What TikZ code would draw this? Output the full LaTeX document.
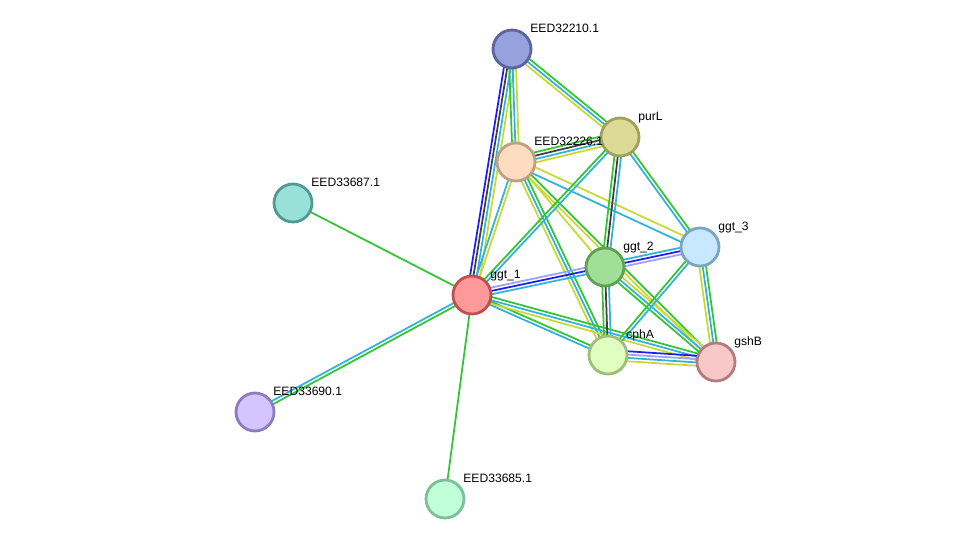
\documentclass[tikz,border=0pt]{standalone}
\usepackage{fontspec}
\setmainfont{Liberation Sans}
\usetikzlibrary{calc, backgrounds}

%% evidence channel colours
\definecolor{evGreen}{RGB}{50,196,50}
\definecolor{evCyan}{RGB}{48,178,220}
\definecolor{evYellow}{RGB}{200,218,50}
\definecolor{evBlue}{RGB}{30,30,238}
\definecolor{evBlack}{RGB}{64,64,64}
\definecolor{evLav}{RGB}{160,160,250}

%% protein fills / rims
\definecolor{f32210}{RGB}{151,162,221} \definecolor{r32210}{RGB}{90,100,160}
\definecolor{fpurL}{RGB}{220,218,150}  \definecolor{rpurL}{RGB}{160,160,90}
\definecolor{f32226}{RGB}{253,220,192} \definecolor{r32226}{RGB}{190,160,130}
\definecolor{f33687}{RGB}{152,224,216} \definecolor{r33687}{RGB}{80,155,145}
\definecolor{fggtA}{RGB}{255,153,153}  \definecolor{rggtA}{RGB}{190,80,80}
\definecolor{fggtB}{RGB}{160,224,150}  \definecolor{rggtB}{RGB}{95,160,85}
\definecolor{fggtC}{RGB}{200,232,255}  \definecolor{rggtC}{RGB}{125,165,190}
\definecolor{fcphA}{RGB}{224,255,192}  \definecolor{rcphA}{RGB}{160,190,120}
\definecolor{fgshB}{RGB}{248,200,200}  \definecolor{rgshB}{RGB}{180,125,125}
\definecolor{f33690}{RGB}{212,196,255} \definecolor{r33690}{RGB}{140,125,190}
\definecolor{f33685}{RGB}{192,255,216} \definecolor{r33685}{RGB}{125,190,155}

\tikzset{
    protein/.style={circle, line width=1.6pt, minimum size=0.76cm, inner sep=0pt},
    plabel/.style={anchor=base west, inner sep=0pt, font=\fontsize{6.9}{8}\selectfont},
    evline/.style={line width=1pt}
}
%% #1 name, #2 position, #3 colour key, #4 label
\newcommand{\prot}[4]{%
    \node[protein, fill=f#3, draw=r#3] (#1) at #2 {};
    \node[plabel] (#1-lbl) at ($(#1)+(18,-17)$) {#4};
}
%% #1 from, #2 to, #3 list colour/offset
\newcommand{\evidence}[3]{%
    \foreach \c/\o in {#3}{
        \draw[evline, draw=\c]
            ($(#1)!\o*1.9pt!90:(#2)$) -- ($(#2)!\o*1.9pt!-90:(#1)$);
    }
}

\begin{document}
\begin{tikzpicture}[x=0.02cm, y=-0.02cm]
\useasboundingbox (0,0) rectangle (975,545);

%% ── PROTEINS ────────────────────────────────────────────────────
\prot{e32210}{(512, 49)}{32210}{EED32210.1}
\prot{purL}  {(620,137)}{purL} {purL}
\prot{e32226}{(516,162)}{32226}{EED32226.1}
\prot{e33687}{(293,203)}{33687}{EED33687.1}
\prot{ggtA}  {(472,295)}{ggtA} {ggt\_1}
\prot{ggtB}  {(605,267)}{ggtB} {ggt\_2}
\prot{ggtC}  {(700,247)}{ggtC} {ggt\_3}
\prot{cphA}  {(608,355)}{cphA} {cphA}
\prot{gshB}  {(716,362)}{gshB} {gshB}
\prot{e33690}{(255,412)}{33690}{EED33690.1}
\prot{e33685}{(445,499)}{33685}{EED33685.1}

%% ── EDGES (under the circles) ───────────────────────────────────
\begin{pgfonlayer}{background}
\evidence{e32210}{ggtA}{evBlue/-1.5, evBlack/-0.5, evCyan/0.5, evYellow/1.5}
\evidence{e32210}{e32226}{evGreen/-1, evCyan/0, evYellow/1}
\evidence{e32210}{purL}{evGreen/1, evCyan/0, evYellow/-1}

\evidence{e32226}{purL}{evGreen/1.5, evBlack/0.5, evCyan/-0.5, evYellow/-1.5}
\evidence{e32226}{ggtA}{evCyan/-0.5, evYellow/0.5}
\evidence{e32226}{ggtC}{evYellow/1, evCyan/-1}
\evidence{e32226}{ggtB}{evYellow/0}
\evidence{e32226}{cphA}{evGreen/1, evCyan/0, evYellow/-1}
\evidence{e32226}{gshB}{evGreen/0.5, evYellow/-0.5}

\evidence{purL}{ggtA}{evGreen/-0.5, evCyan/0.5}
\evidence{purL}{ggtB}{evGreen/-1, evBlack/0, evCyan/1}
\evidence{purL}{ggtC}{evGreen/0.5, evCyan/-0.5}

%% ggt_1 hub
\evidence{ggtA}{ggtB}{evLav/1, evBlue/0, evCyan/-1}
\evidence{ggtA}{cphA}{evGreen/0.5, evCyan/-0.5}
\evidence{ggtA}{gshB}{evGreen/1, evCyan/0, evYellow/-1}
\evidence{ggtA}{e33687}{evGreen/0}
\evidence{ggtA}{e33690}{evCyan/-0.5, evGreen/0.5}
\evidence{ggtA}{e33685}{evGreen/0}

\evidence{ggtB}{ggtC}{evCyan/1, evBlue/0, evLav/-1}
\evidence{ggtB}{cphA}{evGreen/-1, evBlack/0, evCyan/1}
\evidence{ggtB}{gshB}{evYellow/1, evCyan/0, evGreen/-1}

\evidence{ggtC}{cphA}{evCyan/0.5, evGreen/-0.5}
\evidence{ggtC}{gshB}{evYellow/-1, evCyan/0, evGreen/1}

\evidence{cphA}{gshB}{evBlue/1.5, evLav/0.5, evCyan/-0.5, evYellow/-1.5}
\end{pgfonlayer}

\end{tikzpicture}
\end{document}
